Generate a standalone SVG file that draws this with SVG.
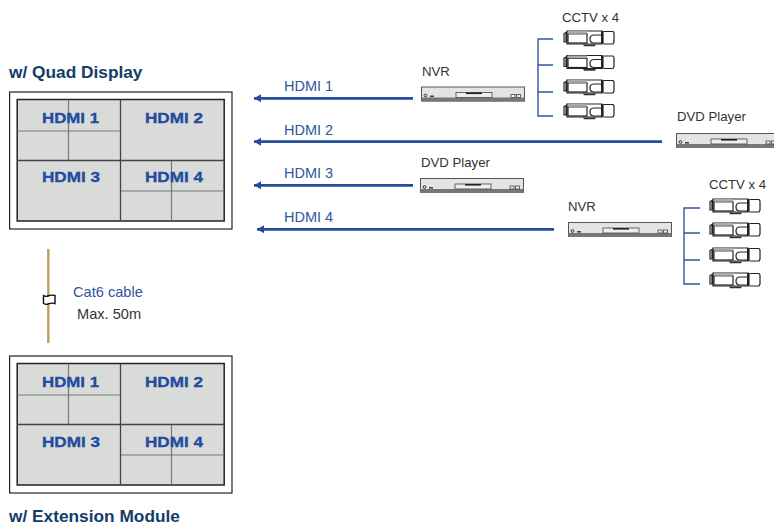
<svg xmlns="http://www.w3.org/2000/svg" xmlns:xlink="http://www.w3.org/1999/xlink" width="774" height="525" viewBox="0 0 774 525">
<style>
text{font-family:"Liberation Sans",Arial,sans-serif}
.title{font-size:17.3px;font-weight:bold;fill:#123c69}
.dk{font-size:13.2px;fill:#333}
.hd{font-size:14.5px;fill:#2e56a0}
.sm{font-size:14.6px}
.in{font-size:15.5px;font-weight:bold;fill:#234b9e;stroke:#234b9e;stroke-width:.35}
.outer{fill:#fff;stroke:#222;stroke-width:1.2}
.screen{fill:#d9dbd8;stroke:#222;stroke-width:1.5}
.grid{fill:none;stroke:#777;stroke-width:1.2}
.mid{fill:none;stroke:#444;stroke-width:1.3}
.ar{fill:none;stroke:#234b9e;stroke-width:2.8;marker-start:url(#ah)}
.br{fill:none;stroke:#2e56a0;stroke-width:1.4}
.cam{fill:none;stroke:#222;stroke-width:1.2}
</style>
<defs>
<marker id="ah" markerUnits="userSpaceOnUse" markerWidth="8" markerHeight="9" refX="1" refY="4.5" orient="auto"><path d="M1 4.5L8 0.5V8.5Z" fill="#234b9e"/></marker>
<g id="disp">
<rect class="outer" x="9.6" y="0" width="222.4" height="137"/>
<rect class="screen" x="17.2" y="7.5" width="207" height="121.5"/>
<path class="grid" d="M68.5 7.5V68.5M17.2 39H120.5M171.5 68.5V129M120.5 99H224"/>
<path class="mid" d="M120.5 7.5V129M17.2 68.5H224"/>
</g>
<g id="dev">
<rect x="0.5" y="0.5" width="103" height="14" fill="#e4e5e3" stroke="#555"/>
<rect x="0.5" y="11" width="103" height="4" fill="#777"/>
<rect x="35" y="6" width="36" height="5" fill="#eee" stroke="#555" stroke-width=".9"/>
<rect x="45" y="6" width="16" height="1.6" fill="#222"/>
<circle cx="4.5" cy="9" r="1.4" fill="none" stroke="#333"/>
<rect x="9" y="9" width="4" height="1.6" fill="#444"/>
<rect x="90" y="8" width="4" height="3" fill="#eee" stroke="#444" stroke-width=".8"/>
<rect x="95.5" y="8" width="4" height="3" fill="#eee" stroke="#444" stroke-width=".8"/>
</g>
<g id="camera">
<path class="cam" d="M3 2.5V12H1V3.5ZM4 1H39V14H4Z"/>
<rect x="5" y="3.8" width="19" height="9.2" fill="#fff" stroke="#222" stroke-width="1.2"/>
<rect x="5" y="1" width="19" height="2.8" fill="#aaa"/>
<path class="cam" d="M39 5H31Q27 5 27 9Q27 13 31 13H39"/>
<rect x="38" y="1" width="2.6" height="13" fill="#222"/>
<path class="cam" d="M40.6 1.5H50L51 3V12L50 14H40.6"/>
<path d="M20 14.5H33L32 16.3H21Z" fill="#333"/>
</g>
</defs>
<text class="title" x="9" y="78">w/ Quad Display</text>
<g id="display-top"><use xlink:href="#disp" href="#disp" y="92"/>
<text class="in" x="42" y="123" textLength="57" lengthAdjust="spacingAndGlyphs">HDMI 1</text><text class="in" x="145" y="123" textLength="58" lengthAdjust="spacingAndGlyphs">HDMI 2</text><text class="in" x="42" y="182" textLength="58" lengthAdjust="spacingAndGlyphs">HDMI 3</text><text class="in" x="145" y="182" textLength="58" lengthAdjust="spacingAndGlyphs">HDMI 4</text></g>
<g id="connectors">
<path class="ar" d="M254 98.3H413"/>
<path class="ar" d="M254 141.7H662"/>
<path class="ar" d="M254 185.3H413"/>
<path class="ar" d="M257 229.3H554"/>
<path class="br" d="M553 39H538V116H553M538 65H553M538 92H553"/>
<path class="br" d="M700 208H684V284H700M684 233H700M684 260H700"/>
</g>
<text class="hd" x="284" y="91">HDMI 1</text>
<text class="hd" x="284" y="135">HDMI 2</text>
<text class="hd" x="284" y="178">HDMI 3</text>
<text class="hd" x="284" y="222">HDMI 4</text>
<g id="nvr-1"><text class="dk" x="422" y="76">NVR</text><use xlink:href="#dev" href="#dev" x="421" y="86.5"/></g>
<g id="dvd-right"><text class="dk" x="677" y="121">DVD Player</text><use xlink:href="#dev" href="#dev" x="676" y="133"/></g>
<g id="dvd-left"><text class="dk" x="421" y="167">DVD Player</text><use xlink:href="#dev" href="#dev" x="420" y="178"/></g>
<g id="nvr-2"><text class="dk" x="568" y="211">NVR</text><use xlink:href="#dev" href="#dev" x="568" y="222"/></g>
<g id="cctv-1"><text class="dk" x="562" y="22">CCTV x 4</text>
<use xlink:href="#camera" href="#camera" x="563" y="30"/><use xlink:href="#camera" href="#camera" x="563" y="54.5"/><use xlink:href="#camera" href="#camera" x="563" y="79"/><use xlink:href="#camera" href="#camera" x="563" y="103"/></g>
<g id="cctv-2"><text class="dk" x="709" y="189">CCTV x 4</text>
<use xlink:href="#camera" href="#camera" x="709" y="198"/><use xlink:href="#camera" href="#camera" x="709" y="222"/><use xlink:href="#camera" href="#camera" x="709" y="247"/><use xlink:href="#camera" href="#camera" x="709" y="272"/></g>
<g id="cable">
<path d="M48.3 249V343" stroke="#c39b62" stroke-width="2.4" fill="none"/>
<path d="M43.5 295.5Q46 297 48 296Q51 294.5 55 295.5V303.5Q51 302.5 48 304Q46 305 43.5 303.5Z" fill="#fff" stroke="#111" stroke-width="1.4"/>
<text class="sm" x="73" y="297" fill="#2e56a0">Cat6 cable</text>
<text class="sm" x="77" y="319" fill="#333">Max. 50m</text>
</g>
<g id="display-bottom"><use xlink:href="#disp" href="#disp" y="356"/>
<text class="in" x="42" y="387" textLength="57" lengthAdjust="spacingAndGlyphs">HDMI 1</text><text class="in" x="145" y="387" textLength="58" lengthAdjust="spacingAndGlyphs">HDMI 2</text><text class="in" x="42" y="447" textLength="58" lengthAdjust="spacingAndGlyphs">HDMI 3</text><text class="in" x="145" y="447" textLength="58" lengthAdjust="spacingAndGlyphs">HDMI 4</text></g>
<text class="title" x="9" y="522">w/ Extension Module</text>
</svg>
